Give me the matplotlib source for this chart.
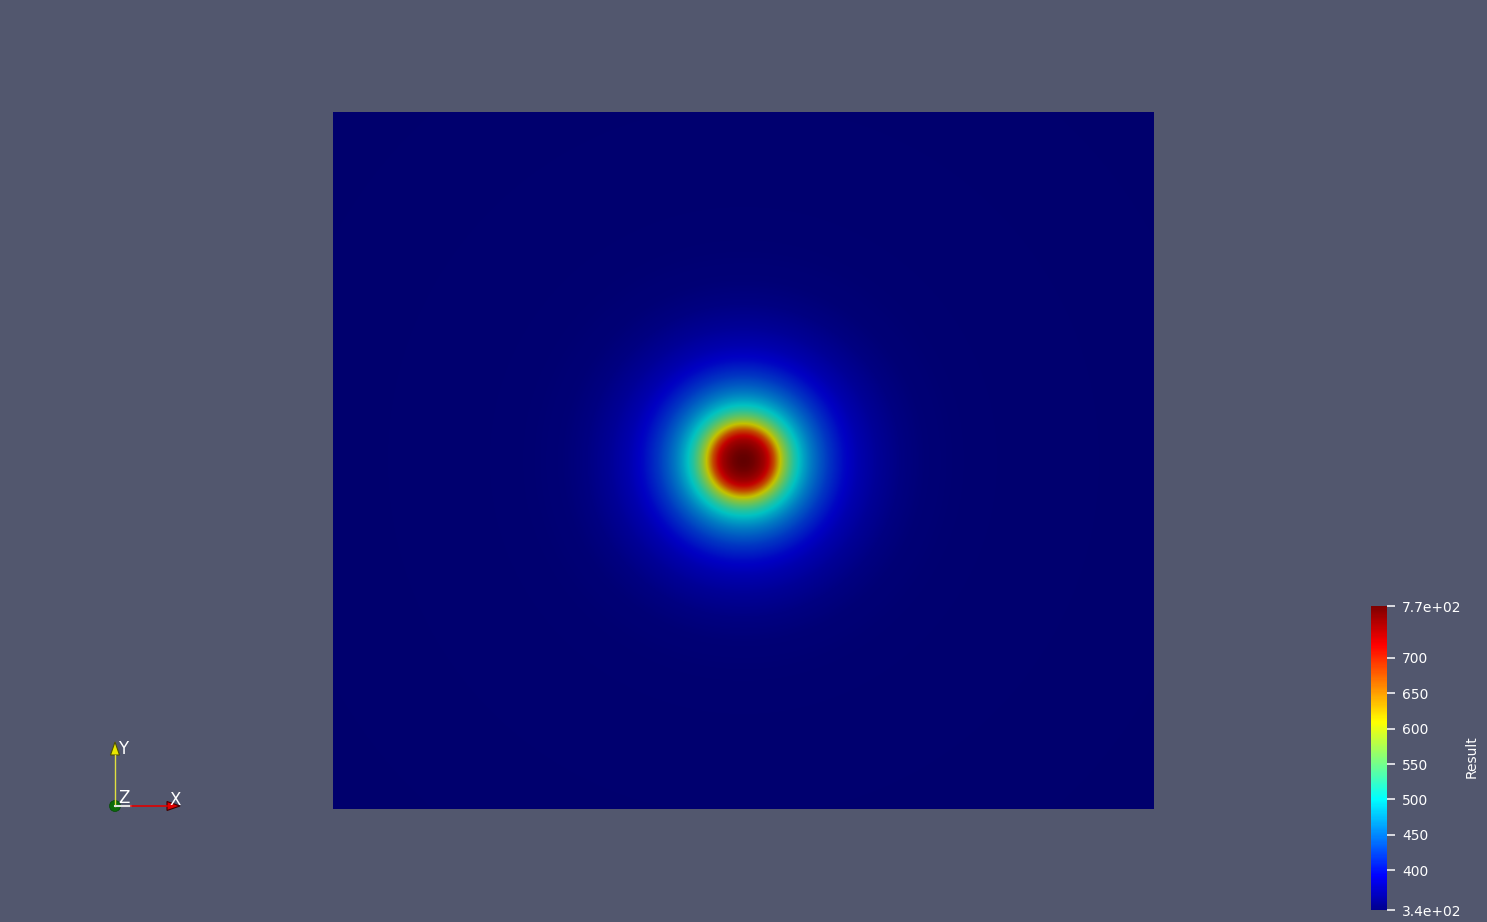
import numpy as np
import matplotlib
matplotlib.use('Agg')
import matplotlib.pyplot as plt
from matplotlib.colors import LinearSegmentedColormap, Normalize
from matplotlib.cm import ScalarMappable
from matplotlib.patches import Polygon, Circle

# radial profile of "Result" (radius in screen px -> value)
ring_radius = [0, 5, 10, 15, 20, 25, 30, 35, 40, 45, 50, 55, 60, 67, 75,
               85, 100, 115, 133, 155, 180, 220, 300, 400, 560]
ring_value = [773, 770, 763, 752, 738, 714, 676, 622, 580, 548, 520, 500, 482,
              461, 442, 421, 396, 380, 367, 356, 349, 346, 345, 344.5, 344]

value_min, value_max = 344, 773
tick_values = [344, 400, 450, 500, 550, 600, 650, 700, 773]
tick_labels = ['3.4e+02', '400', '450', '500', '550', '600', '650', '700', '7.7e+02']

BG = '#52576e'

# ParaView "Jet" preset
jet_nodes = [
    (0.0, (0, 0, 0.5625)),
    (0.111111, (0, 0, 1)),
    (0.365079, (0, 1, 1)),
    (0.619048, (1, 1, 0)),
    (0.873016, (1, 0, 0)),
    (1.0, (0.5, 0, 0)),
]
jet_pv = LinearSegmentedColormap.from_list('jet_pv', jet_nodes)
# the rendered surface is dimmed by the scene lighting
lit = 0.76
jet_lit = LinearSegmentedColormap.from_list(
    'jet_lit', [(p, tuple(c * lit for c in rgb)) for p, rgb in jet_nodes], N=1024)
norm = Normalize(value_min, value_max)

fig = plt.figure(figsize=(14.87, 9.22), dpi=100, facecolor=BG)
W, H = 1487, 922

# main surface, pixels 333..1154 x 112..809
ax = fig.add_axes([333 / W, 1 - 809 / H, 821 / W, 697 / H])
theta = np.linspace(0, 2 * np.pi, 721)
R, T = np.meshgrid(np.array(ring_radius, float), theta, indexing='ij')
C = np.repeat(np.array(ring_value, float)[:, None], len(theta), axis=1)
levels = np.linspace(value_min - 1, value_max + 1, 1000)
ax.contourf(R * np.cos(T), R * np.sin(T), C, levels=levels,
            cmap=jet_lit, norm=norm, antialiased=False)
ax.set_xlim(-410.5, 410.5)
ax.set_ylim(-348.5, 348.5)
ax.axis('off')

# colour legend
cax = fig.add_axes([1371 / W, 1 - 910 / H, 16 / W, 304 / H])
cb = fig.colorbar(ScalarMappable(norm=norm, cmap=jet_pv), cax=cax)
cb.outline.set_visible(False)
cb.set_ticks(tick_values)
cb.set_ticklabels(tick_labels)
cax.tick_params(axis='y', colors='white', labelcolor='white', length=6,
                width=1.1, pad=5, labelsize=10, direction='out')
fig.text(1472 / W, 1 - 757 / H, 'Result', rotation=90, color='white',
         fontsize=10, ha='center', va='center')

# orientation triad (drawn in screen pixels)
tri = fig.add_axes([0, 0, 1, 1])
tri.set_xlim(0, W)
tri.set_ylim(H, 0)
tri.axis('off')
ox, oy = 115, 806
tri.plot([ox, ox], [oy, 755], color='#e0e040', lw=1)
tri.add_patch(Polygon([[ox - 4.5, 755], [ox + 4.5, 755], [ox, 742]],
                      closed=True, facecolor='#e8e800', edgecolor='#505000', lw=0.8))
tri.plot([ox, 131], [oy, oy], color='#e0e0e0', lw=1.5)
tri.plot([131, 167], [oy, oy], color='#e00000', lw=1.2)
tri.add_patch(Polygon([[167, oy - 4.5], [167, oy + 4.5], [180, oy]],
                      closed=True, facecolor='#e00000', edgecolor='#400000', lw=0.8))
tri.add_patch(Circle((ox, oy), 5.5, facecolor='#0a6a0a', edgecolor='#064a06', lw=0.5))
tri.text(118, 749, 'Y', color='white', fontsize=12, ha='left', va='center')
tri.text(175, 800, 'X', color='white', fontsize=12, ha='center', va='center')
tri.text(124, 798, 'Z', color='white', fontsize=12, ha='center', va='center')

fig.savefig('out.png', dpi=100, facecolor=BG)
